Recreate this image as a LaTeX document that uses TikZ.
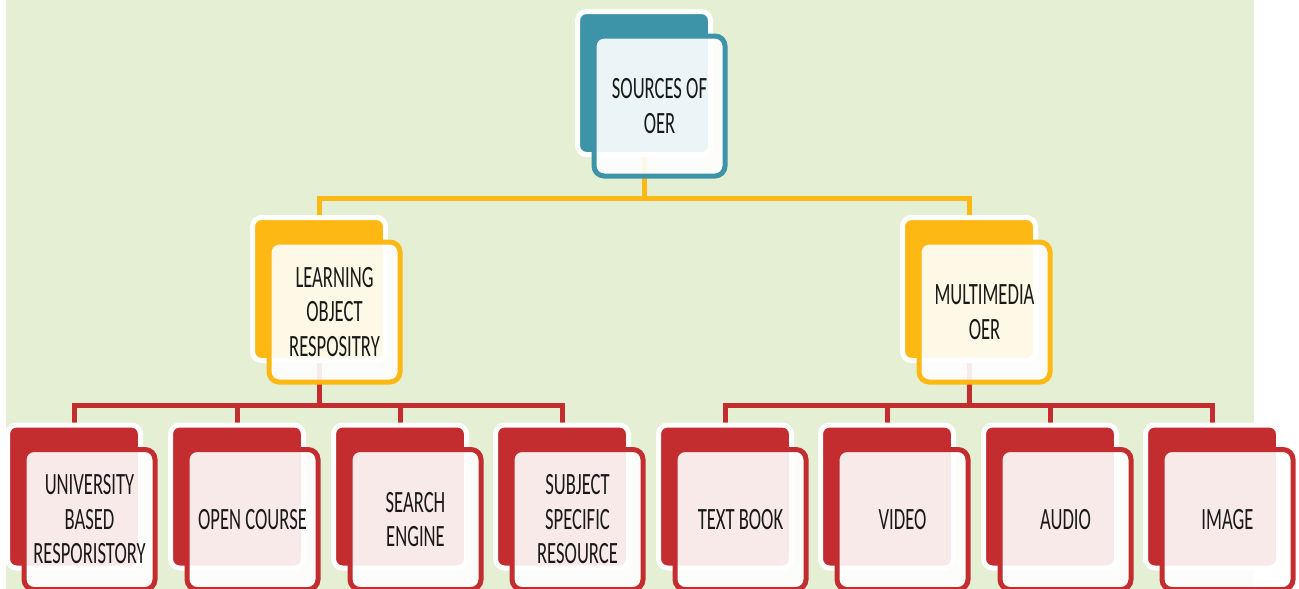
\documentclass[tikz,border=0pt]{standalone}
\usepackage{fontspec}
\setmainfont{Carlito}[FakeStretch=0.6]
\usetikzlibrary{backgrounds}
\definecolor{oerteal}{HTML}{3D93A8}
\definecolor{oeryellow}{HTML}{FDB813}
\definecolor{oerred}{HTML}{C32D2F}
\definecolor{oergreen}{HTML}{E5EFD3}
\begin{document}
\begin{tikzpicture}[x=1pt, y=-1pt,
back/.style={draw=white, line width=5pt, rounded corners=9pt, minimum width=133pt, minimum height=143pt, inner sep=0pt},
front/.style={draw, line width=5pt, fill=white, fill opacity=0.9, text opacity=1, text=black!90, rounded corners=10pt,
  minimum width=131pt, minimum height=140pt, inner sep=0pt, align=center, font=\fontsize{31}{34.5}\selectfont},
yline/.style={line width=5pt, draw=oeryellow},
rline/.style={line width=5pt, draw=oerred}]
\useasboundingbox (0,0) rectangle (1299,589);
\node[back, fill=oerteal] (sources) at (644,83) {};
\node[front, draw=oerteal] (sources-t) at ([shift={(15.5,23)}]sources.center) {SOURCES OF\\OER};
\node[back, fill=oeryellow] (lor) at (319,289) {};
\node[front, draw=oeryellow] (lor-t) at ([shift={(15.5,23)}]lor.center) {LEARNING\\OBJECT\\RESPOSITRY};
\node[back, fill=oeryellow] (mm) at (969,289) {};
\node[front, draw=oeryellow] (mm-t) at ([shift={(15.5,23)}]mm.center) {MULTIMEDIA\\OER};
\node[back, fill=oerred] (univ) at (74,496.5) {};
\node[front, draw=oerred] (univ-t) at ([shift={(15.5,23)}]univ.center) {UNIVERSITY\\BASED\\RESPORISTORY};
\node[back, fill=oerred] (course) at (237,496.5) {};
\node[front, draw=oerred] (course-t) at ([shift={(15.5,23)}]course.center) {OPEN COURSE};
\node[back, fill=oerred] (search) at (400,496.5) {};
\node[front, draw=oerred] (search-t) at ([shift={(15.5,23)}]search.center) {SEARCH\\ENGINE};
\node[back, fill=oerred] (subject) at (562,496.5) {};
\node[front, draw=oerred] (subject-t) at ([shift={(15.5,23)}]subject.center) {SUBJECT\\SPECIFIC\\RESOURCE};
\node[back, fill=oerred] (book) at (725,496.5) {};
\node[front, draw=oerred] (book-t) at ([shift={(15.5,23)}]book.center) {TEXT BOOK};
\node[back, fill=oerred] (video) at (887,496.5) {};
\node[front, draw=oerred] (video-t) at ([shift={(15.5,23)}]video.center) {VIDEO};
\node[back, fill=oerred] (audio) at (1050,496.5) {};
\node[front, draw=oerred] (audio-t) at ([shift={(15.5,23)}]audio.center) {AUDIO};
\node[back, fill=oerred] (image) at (1212,496.5) {};
\node[front, draw=oerred] (image-t) at ([shift={(15.5,23)}]image.center) {IMAGE};
\begin{pgfonlayer}{background}
\fill[oergreen] (6,0) rectangle (1254,589);
\draw[yline] (sources.south) -- ++(0,41) -| (lor.north);
\draw[yline] (sources.south) -- ++(0,41) -| (mm.north);
\draw[rline] (lor.south) -- ++(0,42) -| (univ.north);
\draw[rline] (lor.south) -- ++(0,42) -| (course.north);
\draw[rline] (lor.south) -- ++(0,42) -| (search.north);
\draw[rline] (lor.south) -- ++(0,42) -| (subject.north);
\draw[rline] (mm.south) -- ++(0,42) -| (book.north);
\draw[rline] (mm.south) -- ++(0,42) -| (video.north);
\draw[rline] (mm.south) -- ++(0,42) -| (audio.north);
\draw[rline] (mm.south) -- ++(0,42) -| (image.north);
\end{pgfonlayer}
\end{tikzpicture}
\end{document}
